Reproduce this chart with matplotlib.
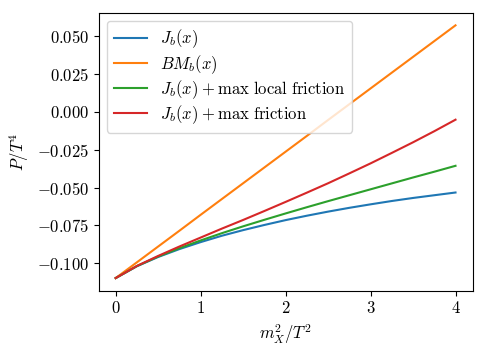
import matplotlib
matplotlib.use("Agg")
import matplotlib.pyplot as plt

plt.rcParams['font.family'] = 'serif'
plt.rcParams['font.serif'] = ['cmr10']
plt.rcParams['mathtext.fontset'] = 'cm'
plt.rcParams['axes.formatter.use_mathtext'] = True
plt.rcParams['font.size'] = 12

x = [0.0, 0.25, 0.5, 0.75, 1.0, 1.25, 1.5, 1.75, 2.0, 2.25, 2.5, 2.75, 3.0, 3.25, 3.5, 3.75, 4.0]
jb = [-0.1097, -0.1019, -0.0958, -0.0906, -0.0860, -0.0818, -0.0781, -0.0747, -0.0715,
      -0.0686, -0.0659, -0.0634, -0.0611, -0.0589, -0.0569, -0.0551, -0.0533]
bmb = [-0.1097, -0.0993, -0.0889, -0.0785, -0.0680, -0.0576, -0.0472, -0.0368, -0.0264,
       -0.0160, -0.0055, 0.0049, 0.0153, 0.0257, 0.0361, 0.0465, 0.0569]
jb_local = [-0.1097, -0.1018, -0.0955, -0.0900, -0.0849, -0.0801, -0.0756, -0.0713, -0.0671,
            -0.0630, -0.0590, -0.0551, -0.0512, -0.0473, -0.0434, -0.0396, -0.0357]
jb_max = [-0.1097, -0.1017, -0.0951, -0.0889, -0.0830, -0.0771, -0.0714, -0.0655, -0.0595,
          -0.0534, -0.0472, -0.0407, -0.0341, -0.0272, -0.0202, -0.0129, -0.0053]

labels = [r'$J_b(x)$', r'$BM_b(x)$',
          r'$J_b(x) \:+\: \mathrm{max\ local\ friction}$',
          r'$J_b(x) \:+\: \mathrm{max\ friction}$']

fig = plt.figure(figsize=(4.85, 3.54), dpi=100)
ax = fig.add_axes([98.7/485, 1-290.7/354, (472.5-98.7)/485, (290.7-12.7)/354])
ax.plot(x, jb, label=labels[0])
ax.plot(x, bmb, label=labels[1])
ax.plot(x, jb_local, label=labels[2])
ax.plot(x, jb_max, label=labels[3])
ax.set_xticks([0, 1, 2, 3, 4])
ax.set_yticks([-0.100, -0.075, -0.050, -0.025, 0.000, 0.025, 0.050])
ax.set_xlabel(r'$m_X^2/T^2$')
ax.set_ylabel(r'$P/T^4$')
ax.legend(loc='upper left', labelspacing=0.15, borderpad=0.4)
fig.savefig('out.png', dpi=100)
